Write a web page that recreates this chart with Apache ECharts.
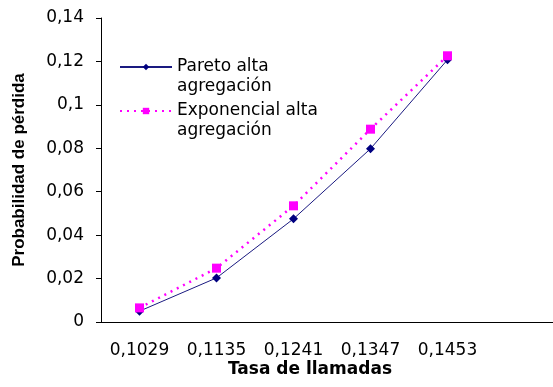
<!DOCTYPE html>
<html>
<head>
<meta charset="utf-8">
<script src="https://cdn.jsdelivr.net/npm/echarts@6/dist/echarts.min.js"></script>
<style>
  html, body { margin: 0; padding: 0; background: #fff; }
  #chart { width: 553px; height: 387px; }
</style>
</head>
<body>
<div id="chart"></div>
<script>
// categorias del eje x (la ultima vacia, como en la hoja original)
const tasas = ['0,1029', '0,1135', '0,1241', '0,1347', '0,1453', '']
const pareto = [0.005, 0.0203, 0.0475, 0.0798, 0.1208]
const exponencial = [0.0065, 0.0248, 0.0535, 0.0888, 0.1226]

const chart = echarts.init(document.getElementById('chart'))
// el original tiene el texto estirado en horizontal, DejaVu Sans se acerca mas
const ancha = '"DejaVu Sans", Verdana, sans-serif'
const arial = 'Arial, "Liberation Sans", sans-serif'

chart.setOption({
  animation: false,
  textStyle: { fontFamily: ancha },
  grid: {
    left: 101,
    top: 18,
    width: 462,
    height: 304,
    // el eje sigue mas alla del borde del lienzo
    outerBoundsMode: 'none'
  },
  legend: {
    orient: 'vertical',
    left: 114,
    top: 32,
    itemWidth: 52,
    itemHeight: 8,
    itemGap: -16,
    // linea en blanco delante para que la marca quede a la altura de la primera linea
    formatter: name => ' \n' + name,
    textStyle: {
      fontSize: 17,
      color: '#000',
      lineHeight: 20,
      fontFamily: ancha
    },
    data: [
      { name: 'Pareto alta\nagregación' },
      { name: 'Exponencial alta\nagregación' }
    ]
  },
  graphic: [
    {
      type: 'text',
      x: 310,
      y: 361,
      style: {
        text: 'Tasa de llamadas',
        align: 'center',
        fontSize: 17,
        fontWeight: 'bold',
        fontFamily: ancha,
        fill: '#000'
      }
    }
  ],
  xAxis: {
    type: 'category',
    data: tasas,
    boundaryGap: true,
    axisLine: { lineStyle: { color: '#000', width: 1 } },
    axisTick: { length: 6, lineStyle: { color: '#000' } },
    axisLabel: { fontSize: 17, color: '#000', margin: 20, interval: 0, fontFamily: ancha },
    splitLine: { show: false }
  },
  yAxis: {
    type: 'value',
    min: 0,
    max: 0.14,
    interval: 0.02,
    name: 'Probabilidad de pérdida',
    nameLocation: 'middle',
    nameGap: 73,
    nameTextStyle: { fontSize: 17, fontWeight: 'bold', color: '#000', fontFamily: arial },
    axisLine: { show: true, lineStyle: { color: '#000', width: 1 } },
    axisTick: { show: true, inside: false, length: 5, lineStyle: { color: '#000' } },
    axisLabel: {
      fontSize: 17,
      color: '#000',
      margin: 17,
      fontFamily: ancha,
      formatter: v => String(+v.toFixed(2)).replace('.', ',')
    },
    splitLine: { show: false }
  },
  series: [
    {
      name: 'Pareto alta\nagregación',
      type: 'line',
      data: pareto,
      symbol: 'diamond',
      symbolSize: 9,
      itemStyle: { color: '#000080' },
      lineStyle: { color: '#1a1a80', width: 1 }
    },
    {
      name: 'Exponencial alta\nagregación',
      type: 'line',
      data: exponencial,
      symbol: 'rect',
      symbolSize: 9,
      itemStyle: { color: '#ff00ff' },
      lineStyle: { color: '#ff00ff', width: 2.5, type: [2, 5] }
    }
  ]
})
</script>
</body>
</html>
